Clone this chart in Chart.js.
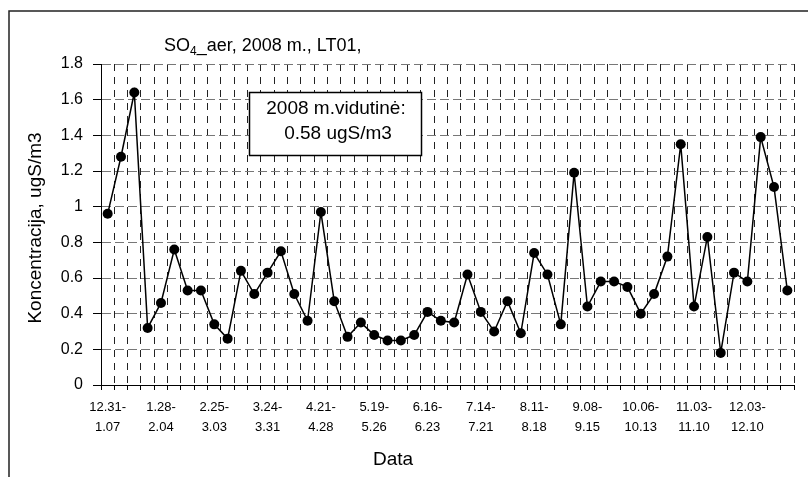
<!DOCTYPE html>
<html>
<head>
<meta charset="utf-8">
<script src="https://cdn.jsdelivr.net/npm/chart.js@4"></script>
<style>
  html, body { margin: 0; padding: 0; background: #fff; }
</style>
</head>
<body>
<canvas id="chart" width="808" height="477"></canvas>
<script>
// weekly samples, 2008
const weeks = ["1","2","3","4","5","6","7","8","9","10","11","12","13","14","15","16","17","18","19","20","21","22","23","24","25","26",
  "27","28","29","30","31","32","33","34","35","36","37","38","39","40","41","42","43","44","45","46","47","48","49","50","51","52"];
const so4 = [0.96, 1.28, 1.64, 0.32, 0.46, 0.76, 0.53, 0.53, 0.34, 0.26, 0.64, 0.51, 0.63, 0.75, 0.51, 0.36, 0.97, 0.47, 0.27, 0.35,
  0.28, 0.25, 0.25, 0.28, 0.41, 0.36, 0.35, 0.62, 0.41, 0.30, 0.47, 0.29, 0.74, 0.62, 0.34, 1.19, 0.44, 0.58, 0.58, 0.55,
  0.40, 0.51, 0.72, 1.35, 0.44, 0.83, 0.18, 0.63, 0.58, 1.39, 1.11, 0.53];
const tickLabels = [["12.31-","1.07"],["1.28-","2.04"],["2.25-","3.03"],["3.24-","3.31"],["4.21-","4.28"],["5.19-","5.26"],
  ["6.16-","6.23"],["7.14-","7.21"],["8.11-","8.18"],["9.08-","9.15"],["10.06-","10.13"],["11.03-","11.10"],["12.03-","12.10"]];
const avgLines = ["2008 m.vidutinė:", "0.58 ugS/m3"];
const yTitle = "Koncentracija, ugS/m3";
const xTitle = "Data";

const FONT = "'Liberation Sans', Arial, sans-serif";

const extras = {
  id: "extras",
  afterDraw(chart) {
    const ctx = chart.ctx;
    ctx.save();
    // outer frame (cut off at right and bottom)
    ctx.strokeStyle = "#222";
    ctx.lineWidth = 1.5;
    ctx.beginPath();
    ctx.moveTo(9, 477);
    ctx.lineTo(9, 11);
    ctx.lineTo(808, 11);
    ctx.stroke();

    ctx.fillStyle = "#000";
    // title with subscript
    ctx.textBaseline = "alphabetic";
    ctx.textAlign = "left";
    let x = 164;
    ctx.font = "18px " + FONT;
    ctx.fillText("SO", x, 51);
    x += ctx.measureText("SO").width;
    ctx.font = "12px " + FONT;
    ctx.fillText("4", x, 55);
    x += ctx.measureText("4").width;
    ctx.font = "18px " + FONT;
    ctx.fillText("_aer, 2008 m., LT01,", x, 51);

    // axis titles
    ctx.textAlign = "center";
    ctx.textBaseline = "middle";
    ctx.font = "19px " + FONT;
    ctx.fillText(xTitle, 393, 460);
    ctx.save();
    ctx.translate(36, 228);
    ctx.rotate(-Math.PI / 2);
    ctx.font = "19px " + FONT;
    ctx.fillText(yTitle, 0, 0);
    ctx.restore();

    // average box
    ctx.fillStyle = "#fff";
    ctx.fillRect(249.5, 92.5, 172, 63);
    ctx.strokeStyle = "#000";
    ctx.lineWidth = 1.5;
    ctx.strokeRect(249.5, 92.5, 172, 63);
    ctx.fillStyle = "#000";
    ctx.font = "19px " + FONT;
    ctx.fillText(avgLines[0], 336, 109);
    ctx.fillText(avgLines[1], 338, 134);
    ctx.restore();
  }
};

new Chart(document.getElementById("chart"), {
  type: "line",
  data: {
    labels: weeks,
    datasets: [{
      data: so4,
      borderColor: "#000",
      borderWidth: 1.5,
      pointRadius: 5,
      pointBackgroundColor: "#000",
      pointBorderWidth: 0,
      tension: 0,
    }],
  },
  options: {
    responsive: false,
    animation: false,
    devicePixelRatio: 1,
    layout: { padding: { left: 0, top: 64, right: 14, bottom: 0 } },
    plugins: {
      legend: { display: false },
      tooltip: { enabled: false },
    },
    scales: {
      x: {
        type: "category",
        offset: true,
        afterFit: (s) => { s.height = 92; },
        grid: {
          offset: true,
          color: (c) => (c.index === 0 ? "rgba(0,0,0,0)" : "#222"),
          lineWidth: 1,
          tickLength: 5,
          tickColor: "#000",
        },
        border: { display: true, color: "#000", width: 1, dash: [7, 6] },
        ticks: {
          autoSkip: false,
          maxRotation: 0,
          padding: 8,
          color: "#000",
          font: { family: FONT, size: 13, lineHeight: 1.5 },
          callback: (v, i) => (i % 4 === 0 ? tickLabels[i / 4] : ""),
        },
      },
      y: {
        min: 0,
        max: 1.8,
        afterFit: (s) => { s.width = 101; },
        grid: {
          color: (c) => (c.tick && c.tick.value === 0 ? "rgba(0,0,0,0)" : "#777"),
          lineWidth: 1,
          tickLength: 8,
          tickColor: "#000",
        },
        border: { display: true, color: "#000", width: 1, dash: [9, 4] },
        ticks: {
          stepSize: 0.2,
          padding: 10,
          color: "#000",
          font: { family: FONT, size: 16 },
          callback: (v) => String(+v.toFixed(1)),
        },
      },
    },
  },
  plugins: [extras],
});
</script>
</body>
</html>
